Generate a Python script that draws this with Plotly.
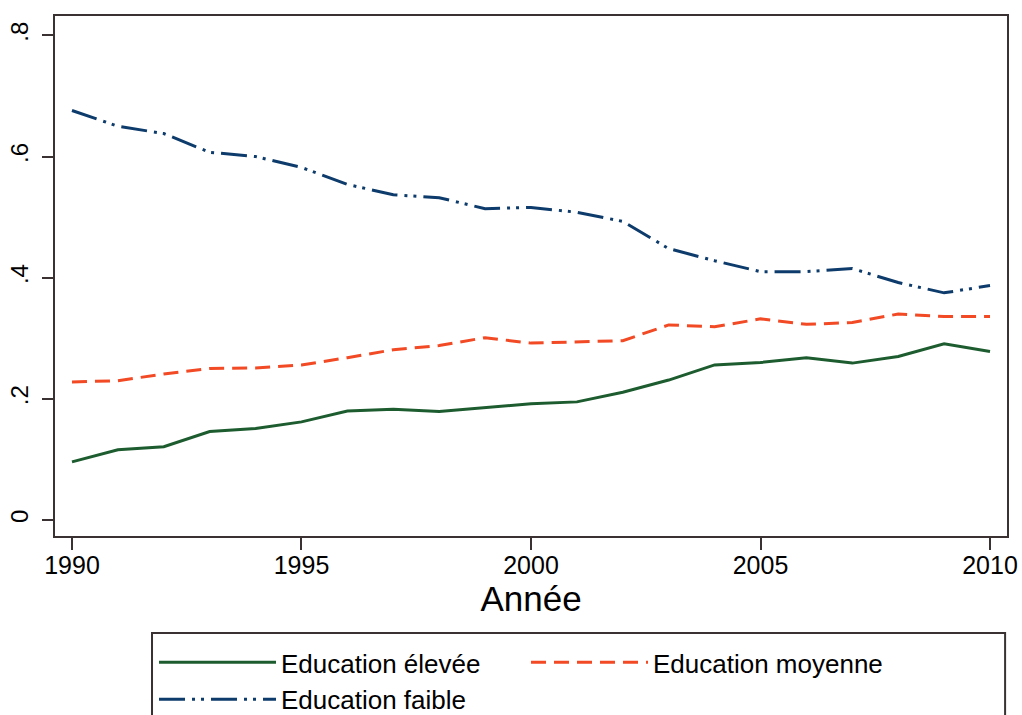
import plotly.graph_objects as go

annees = list(range(1990, 2011))

educ_elevee = [0.096, 0.116, 0.121, 0.146, 0.151, 0.162, 0.180, 0.183, 0.179, 0.185, 0.192,
               0.195, 0.211, 0.231, 0.256, 0.260, 0.268, 0.259, 0.270, 0.291, 0.278]
educ_moyenne = [0.228, 0.230, 0.241, 0.250, 0.251, 0.256, 0.268, 0.281, 0.288, 0.301, 0.292,
                0.294, 0.296, 0.322, 0.319, 0.332, 0.323, 0.326, 0.340, 0.336, 0.336]
educ_faible = [0.676, 0.650, 0.638, 0.607, 0.600, 0.582, 0.554, 0.537, 0.532, 0.514, 0.516,
               0.508, 0.493, 0.448, 0.428, 0.410, 0.410, 0.415, 0.392, 0.375, 0.387]

y_ticks = [0, 0.2, 0.4, 0.6, 0.8]
y_ticktext = ['0', '.2', '.4', '.6', '.8']
x_ticks = [1990, 1995, 2000, 2005, 2010]

frame = '#3a3232'

fig = go.Figure([
    go.Scatter(x=annees, y=educ_elevee, mode='lines', name='Education élevée',
               line=dict(color='#1d5c2f', width=3)),
    go.Scatter(x=annees, y=educ_moyenne, mode='lines', name='Education moyenne',
               line=dict(color='#f24a25', width=3, dash='15px,8px')),
    go.Scatter(x=annees, y=educ_faible, mode='lines', name='Education faible',
               line=dict(color='#0d3b6b', width=3, dash='26px,7px,3px,6px,3px,7px')),
])

fig.update_layout(
    template='simple_white',
    width=1022,
    height=715,
    font=dict(family='Liberation Sans, Arial, sans-serif', color='black'),
    margin=dict(l=55, r=15, t=16, b=179, autoexpand=False),
    plot_bgcolor='white',
    paper_bgcolor='white',
    legend=dict(
        orientation='h',
        x=0.104, xanchor='left',
        y=-0.198, yanchor='top',
        entrywidth=240,
        itemwidth=117,
        bgcolor='rgba(0,0,0,0)',
        borderwidth=0,
        font=dict(size=26),
        tracegroupgap=0,
    ),
    # cadre de la légende, ouvert en bas comme dans l'original
    shapes=[dict(type='rect', xref='paper', yref='paper',
                 x0=0.1019, x1=0.998, y0=-0.5, y1=-0.1865,
                 fillcolor='rgba(0,0,0,0)', opacity=1,
                 line=dict(color=frame, width=2))],
)

fig.update_xaxes(
    range=[1989.63, 2010.37],
    tickvals=x_ticks,
    ticks='outside', ticklen=12, tickwidth=1.5, tickcolor=frame,
    tickfont=dict(size=25),
    ticklabelstandoff=-6,
    showline=True, linecolor=frame, linewidth=2, mirror=True,
    showgrid=False, zeroline=False,
    automargin=False,
    title=dict(text='Année', font=dict(size=35), standoff=0),
)
fig.update_yaxes(
    range=[-0.0264, 0.832],
    tickvals=y_ticks, ticktext=y_ticktext,
    tickangle=-90,
    ticks='outside', ticklen=11, tickwidth=1.5, tickcolor=frame,
    tickfont=dict(size=24),
    ticklabelstandoff=4,
    showline=True, linecolor=frame, linewidth=2, mirror=True,
    showgrid=False, zeroline=False,
    automargin=False,
)

# pas de marge autour du graphique dans la page
fig.write_html('out.html', config={'displayModeBar': False},
               post_script="document.body.style.margin='0';")
